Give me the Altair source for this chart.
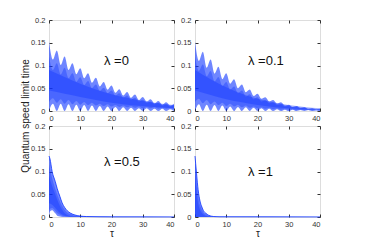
import altair as alt
import pandas as pd

LABELS = ["λ =0", "λ =0.1", "λ =0.5", "λ =1"]

T33 = [0, 1.25, 2.5, 3.75, 5, 6.25, 7.5, 8.75, 10, 11.25, 12.5, 13.75, 15, 16.25,
       17.5, 18.75, 20, 21.25, 22.5, 23.75, 25, 26.25, 27.5, 28.75, 30, 31.25,
       32.5, 33.75, 35, 36.25, 37.5, 38.75, 40]
T9 = [0, 5, 10, 15, 20, 25, 30, 35, 40]

# lambda = 0
L0_OUT_HI = [0.153, 0.113, 0.133, 0.101, 0.12, 0.09, 0.105, 0.081, 0.094, 0.072, 0.083,
             0.062, 0.073, 0.054, 0.064, 0.047, 0.056, 0.04, 0.048, 0.034, 0.042, 0.029,
             0.036, 0.024, 0.031, 0.021, 0.026, 0.017, 0.022, 0.014, 0.019, 0.012, 0.016]
L0_OUT_LO = [0, 0.016, 0, 0.016, 0, 0.015, 0, 0.014, 0, 0.013, 0, 0.012, 0, 0.011, 0,
             0.01, 0, 0.009, 0, 0.008, 0, 0.007, 0, 0.006, 0, 0.006, 0, 0.005, 0, 0.005,
             0, 0.004, 0]
L0_MID_HI = [0.12, 0.09, 0.105, 0.08, 0.095, 0.072, 0.083, 0.064, 0.074, 0.057, 0.066,
             0.05, 0.058, 0.044, 0.051, 0.039, 0.045, 0.034, 0.039, 0.029, 0.034, 0.025,
             0.029, 0.021, 0.025, 0.018, 0.021, 0.015, 0.018, 0.012, 0.015, 0.01, 0.013]
L0_MID_LO = [0.02, 0.028, 0.018, 0.026, 0.016, 0.024, 0.015, 0.022, 0.014, 0.02, 0.013,
             0.018, 0.012, 0.016, 0.011, 0.015, 0.01, 0.013, 0.009, 0.012, 0.008, 0.011,
             0.007, 0.01, 0.006, 0.009, 0.006, 0.008, 0.005, 0.007, 0.005, 0.006, 0.004]
L0_CORE_HI = [0.09, 0.075, 0.06, 0.047, 0.037, 0.029, 0.022, 0.017, 0.013]
L0_CORE_LO = [0.045, 0.038, 0.031, 0.024, 0.018, 0.014, 0.011, 0.008, 0.006]

# lambda = 0.1
L1_OUT_HI = [0.152, 0.11, 0.13, 0.095, 0.113, 0.082, 0.097, 0.07, 0.083, 0.06, 0.07,
             0.05, 0.058, 0.041, 0.047, 0.033, 0.038, 0.027, 0.03, 0.021, 0.024, 0.016,
             0.019, 0.012, 0.014, 0.009, 0.011, 0.007, 0.008, 0.005, 0.006, 0.004, 0.005]
L1_OUT_LO = [0, 0.015, 0, 0.014, 0, 0.013, 0, 0.012, 0, 0.01, 0, 0.009, 0, 0.008, 0,
             0.007, 0, 0.006, 0, 0.005, 0, 0.004, 0, 0.003, 0, 0.003, 0, 0.002, 0, 0.002,
             0, 0.001, 0]
L1_MID_HI = [0.12, 0.088, 0.102, 0.076, 0.088, 0.065, 0.075, 0.055, 0.064, 0.047, 0.054,
             0.039, 0.045, 0.032, 0.037, 0.026, 0.03, 0.021, 0.024, 0.017, 0.019, 0.013,
             0.015, 0.01, 0.011, 0.008, 0.009, 0.006, 0.007, 0.004, 0.005, 0.003, 0.004]
L1_MID_LO = [0.02, 0.027, 0.017, 0.024, 0.015, 0.021, 0.013, 0.018, 0.011, 0.016, 0.01,
             0.014, 0.008, 0.012, 0.007, 0.01, 0.006, 0.008, 0.005, 0.007, 0.004, 0.006,
             0.003, 0.005, 0.003, 0.004, 0.002, 0.003, 0.002, 0.002, 0.001, 0.002, 0.001]
L1_CORE_HI = [0.09, 0.07, 0.052, 0.038, 0.027, 0.019, 0.013, 0.009, 0.006]
L1_CORE_LO = [0.045, 0.035, 0.026, 0.019, 0.013, 0.009, 0.006, 0.004, 0.003]

# lambda = 0.5
L5_T = [0, 0.3, 1, 2, 2.6, 3.5, 4.2, 5, 5.8, 7, 8, 10, 12, 16, 20, 40]
L5_OUT_HI = [0.134, 0.128, 0.1, 0.078, 0.063, 0.045, 0.031, 0.021, 0.014, 0.008, 0.005,
             0.002, 0.001, 0.0005, 0.0003, 0.0002]
L5_OUT_LO = [0, 0.012, 0.015, 0.008, 0.003, 0.001, 0, 0, 0, 0, 0, 0, 0, 0, 0, 0]
L5_MID_HI = [0.115, 0.105, 0.085, 0.062, 0.05, 0.034, 0.024, 0.016, 0.01, 0.006, 0.003,
             0.0015, 0.0008, 0.0004, 0.0002, 0.0001]
L5_MID_LO = [0.01, 0.018, 0.02, 0.014, 0.009, 0.005, 0.003, 0.0015, 0.001, 0, 0, 0, 0,
             0, 0, 0]
L5_CORE_T = [0, 1, 2, 3, 4, 5, 6, 8, 40]
L5_CORE_HI = [0.09, 0.068, 0.05, 0.032, 0.018, 0.009, 0.004, 0.001, 0]
L5_CORE_LO = [0.03, 0.027, 0.02, 0.012, 0.006, 0.003, 0.001, 0, 0]

# lambda = 1
LA_T = [0, 0.2, 0.5, 1, 1.6, 2.2, 2.7, 3.5, 4.3, 6, 8, 40]
LA_OUT_HI = [0.134, 0.118, 0.095, 0.06, 0.035, 0.022, 0.014, 0.008, 0.004, 0.001,
             0.0005, 0.0002]
LA_OUT_LO = [0] * 12
LA_MID_HI = [0.12, 0.1, 0.075, 0.045, 0.026, 0.016, 0.01, 0.005, 0.0025, 0.0006,
             0.0002, 0.0001]
LA_MID_LO = [0] * 12
LA_CORE_T = [0, 0.5, 1, 1.6, 2.2, 3, 4, 6, 40]
LA_CORE_HI = [0.09, 0.055, 0.03, 0.016, 0.009, 0.004, 0.0015, 0.0003, 0]
LA_CORE_LO = [0] * 9

X_TICKS = [0, 10, 20, 30, 40]
Y_TICKS = [0, 0.05, 0.1, 0.15, 0.2]

BLUE = "#0f35ff"
FONT = "Liberation Sans"
W, H = 125, 91

xscale = alt.Scale(domain=[0, 40], nice=False, zero=False)
yscale = alt.Scale(domain=[0, 0.2], nice=False)


def df(t, hi, lo):
    return pd.DataFrame({"tau": t, "hi": hi, "lo": lo})


def main_axes(xtitle):
    xa = alt.Axis(values=X_TICKS, grid=False, domain=False, tickSize=3, offset=-3,
                  labelPadding=3, labelFontSize=7.5, labelFont=FONT,
                  labelColor="#333", tickColor="#333", title=xtitle,
                  titleFont=FONT, titleFontSize=10, titleFontWeight="normal",
                  titleColor="#222", titlePadding=1)
    ya = alt.Axis(values=Y_TICKS, grid=False, domain=False, tickSize=3, offset=-3,
                  labelPadding=4, labelFontSize=7.5, labelFont=FONT,
                  labelColor="#333", tickColor="#333", format="~g", title=None)
    return xa, ya


def mirror_axes():
    xa = alt.Axis(orient="top", values=X_TICKS, grid=False, domain=False, tickSize=3,
                  offset=-3, labels=False, tickColor="#333", title=None)
    ya = alt.Axis(orient="right", values=Y_TICKS, grid=False, domain=False, tickSize=3,
                  offset=-3, labels=False, tickColor="#333", title=None)
    return xa, ya


def band(d, opacity, xa=None, ya=None):
    return alt.Chart(d).mark_area(color=BLUE, opacity=opacity, interpolate="monotone",
                                  strokeWidth=0).encode(
        x=alt.X("tau:Q", scale=xscale, axis=xa),
        y=alt.Y("hi:Q", scale=yscale, axis=ya),
        y2="lo:Q")


def panel(outer, mid, core, label, lx, ly, xtitle=None, ylabel=False, edge=False):
    xa, ya = main_axes(xtitle)
    mx, my = mirror_axes()
    layers = [
        band(outer, 0.6, xa, ya),
        band(mid, 0.38),
        band(core, 0.38),
    ]
    if edge:
        layers.append(alt.Chart(outer).mark_line(color=BLUE, opacity=0.8, strokeWidth=1,
                                                 interpolate="monotone").encode(
            x=alt.X("tau:Q", scale=xscale, axis=None),
            y=alt.Y("hi:Q", scale=yscale, axis=None)))
    layers.append(alt.Chart(outer).mark_line(opacity=0).encode(
        x=alt.X("tau:Q", scale=xscale, axis=mx),
        y=alt.Y("hi:Q", scale=yscale, axis=my)))
    layers.append(alt.Chart(pd.DataFrame({"t": [label]})).mark_text(
        font=FONT, fontSize=13, align="left", baseline="middle", color="#111").encode(
        x=alt.value(lx), y=alt.value(ly), text="t:N"))
    if ylabel:
        layers.append(alt.Chart(pd.DataFrame({"t": ["Quantum speed limit time"]})).mark_text(
            font=FONT, fontSize=10, angle=270, align="center", baseline="middle",
            color="#222").encode(x=alt.value(-23), y=alt.value(96), text="t:N"))
    return alt.layer(*layers).resolve_axis(x="independent", y="independent").properties(
        width=W, height=H)


p0 = panel(df(T33, L0_OUT_HI, L0_OUT_LO), df(T33, L0_MID_HI, L0_MID_LO),
           df(T9, L0_CORE_HI, L0_CORE_LO), LABELS[0], 55, 41, ylabel=True)
p1 = panel(df(T33, L1_OUT_HI, L1_OUT_LO), df(T33, L1_MID_HI, L1_MID_LO),
           df(T9, L1_CORE_HI, L1_CORE_LO), LABELS[1], 53, 41)
p2 = panel(df(L5_T, L5_OUT_HI, L5_OUT_LO), df(L5_T, L5_MID_HI, L5_MID_LO),
           df(L5_CORE_T, L5_CORE_HI, L5_CORE_LO), LABELS[2], 55, 36, xtitle="τ", edge=True)
p3 = panel(df(LA_T, LA_OUT_HI, LA_OUT_LO), df(LA_T, LA_MID_HI, LA_MID_LO),
           df(LA_CORE_T, LA_CORE_HI, LA_CORE_LO), LABELS[3], 53, 46, xtitle="τ", edge=True)

chart = alt.concat(p0, p1, p2, p3, columns=2, spacing={"row": 15, "column": 21},
                   bounds="flush").properties(
    padding={"left": 12, "top": 7, "right": 5, "bottom": 5}
).configure_view(stroke="#3a3a3a", strokeWidth=1).configure(background="white")

chart.save("out.html", embed_options={"renderer": "svg", "actions": False})
